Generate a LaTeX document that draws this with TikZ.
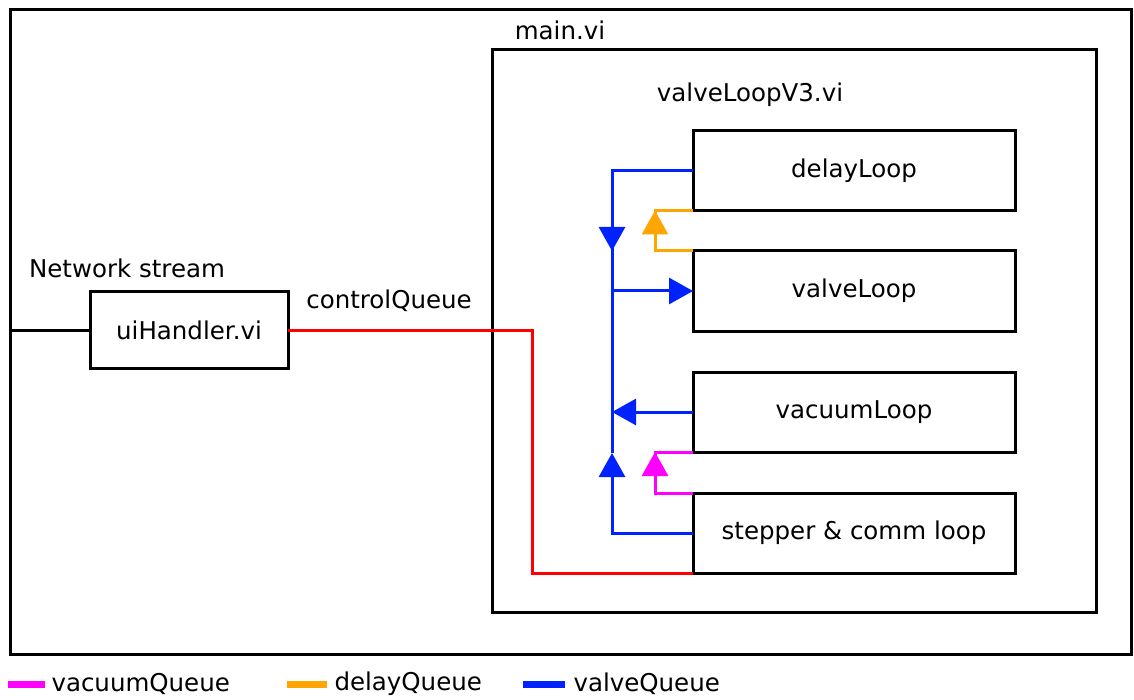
\documentclass[tikz,border=0pt]{standalone}
\usepackage{fontspec}
\setmainfont{DejaVu Sans}
\usetikzlibrary{arrows.meta,calc}
\definecolor{vacq}{RGB}{255,0,255}
\definecolor{delq}{RGB}{255,165,0}
\definecolor{valq}{RGB}{0,34,255}
\definecolor{ctlq}{RGB}{255,0,0}
\tikzset{
  lbl/.style={inner sep=0pt,text=black,font=\fontsize{24.5}{29}\selectfont},
  box/.style={draw,line width=3pt,outer sep=0pt,inner sep=0pt,
    minimum width=322pt,minimum height=80pt,font=\fontsize{24.5}{29}\selectfont},
  frame/.style={draw,line width=3pt,outer sep=0pt,inner sep=0pt},
  wire/.style={line width=3pt},
  tri/.tip={Triangle[length=24pt,width=26pt]},
  vq/.style={wire,valq},
  dq/.style={wire,delq},
  mq/.style={wire,vacq},
  cq/.style={wire,ctlq},
  key/.style={line width=7pt},
}
\begin{document}
\begin{tikzpicture}[x=1pt,y=-1pt]
\useasboundingbox (0,0) rectangle (1134,700);
\fill[white] (0,0) rectangle (1134,700);

% enclosing frames
\node[frame,minimum width=1121pt,minimum height=644pt] (outer) at (570.5,332) {};
\node[frame,minimum width=604pt,minimum height=562pt] (main) at (794,331) {};
\node[lbl] (mainlbl) at (560,30) {main.vi};
\node[lbl] (v3lbl) at (750,95) {valveLoopV3.vi};

% loops inside valveLoopV3.vi
\node[box] (delay) at (854,170.5) {delayLoop};
\node[box] (valve) at (854,291) {valveLoop};
\node[box] (vacuum) at (854,412) {vacuumLoop};
\node[box] (stepper) at (854,533) {stepper \& comm loop};

% UI handler
\node[frame,minimum width=198pt,minimum height=77pt,font=\fontsize{24.5}{29}\selectfont] (ui) at (189,330) {uiHandler.vi};
\node[lbl] (nslbl) at (127,268) {Network stream};
\node[lbl] (cqlbl) at (389,301) {controlQueue};

% network stream into the handler
\draw[wire] (outer.west |- ui.west) -- (ui.west);

% control queue
\coordinate (rb) at (532,0);
\draw[cq] (ui.east) -- (ui.east -| rb) |- (stepper.south west);

% valve queue bus
\coordinate (bus) at (612,0);
\coordinate (dn) at (612,251);
\coordinate (up) at (612,453);
\draw[vq] (delay.west) -| (up);
\draw[vq,-tri] (delay.west -| bus) -- (dn);
\draw[vq,-tri] (valve.west -| bus) -- (valve.west);
\draw[vq,-tri] (vacuum.west) -- (vacuum.west -| bus);
\draw[vq,-tri] (stepper.west) -| (up);

% delay queue: valveLoop -> delayLoop
\coordinate (dq) at (655,0);
\draw[dq] (valve.north west) -- (valve.north west -| dq) |- (delay.south west);
\draw[dq,-tri] (valve.north west -| dq) -- (delay.south west -| dq);

% vacuum queue: stepper -> vacuumLoop
\draw[mq] (stepper.north west) -- (stepper.north west -| dq) |- (vacuum.south west);
\draw[mq,-tri] (stepper.north west -| dq) -- (vacuum.south west -| dq);

% legend
\coordinate (k1) at (8,684);
\coordinate (k2) at (287,684);
\coordinate (k3) at (523,684);
\draw[key,vacq] (k1) -- ++(37,0) node[lbl,anchor=west,xshift=3pt] (l1) {vacuumQueue};
\draw[key,delq] (k2) -- ++(40,0) node[lbl,anchor=west,xshift=4pt] (l2) {delayQueue};
\draw[key,valq] (k3) -- ++(42,0) node[lbl,anchor=west,xshift=5pt] (l3) {valveQueue};
\end{tikzpicture}
\end{document}
